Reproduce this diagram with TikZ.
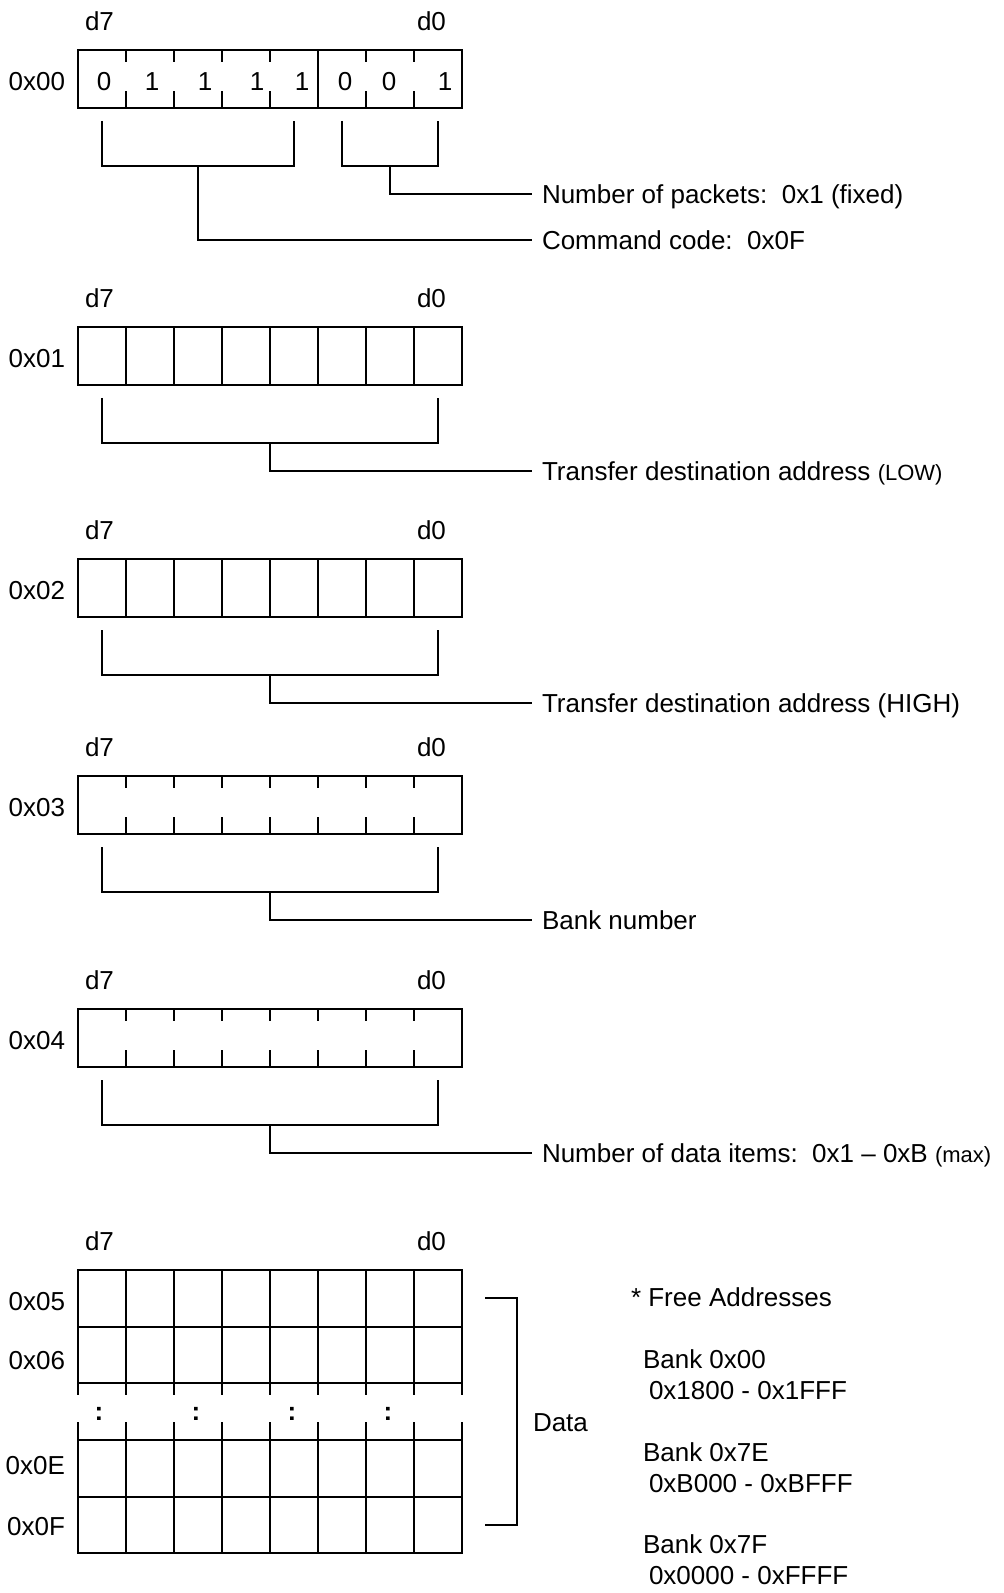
\documentclass[tikz,border=0pt]{standalone}
\usepackage{fontspec}
\setmainfont{Liberation Sans}
\begin{document}
\begin{tikzpicture}
% Packet layout in pixel units, origin top left, y pointing down
\def\pxsz{0.5pt}
\providecommand{\pktLineWidth}{1pt}
\providecommand{\pktFont}{\fontsize{13}{15.6}\selectfont}
\providecommand{\pktSmall}{\fontsize{11}{13}\selectfont}
\begin{scope}[x=\pxsz, y=-\pxsz, line width=\pktLineWidth,
  every node/.style={font=\pktFont, inner sep=0pt, text height=9.3pt, text depth=0pt},
  addr/.style={anchor=east},
  bitname/.style={anchor=west},
  field/.style={anchor=west, inner sep=4.5pt},
  note/.style={anchor=base west}]
  \useasboundingbox (0,0) rectangle (1003,1593);
  % Register 0x00: command byte
  \node[bitname] (hi00) at (84,21.5) {d7};
  \node[bitname] (lo00) at (416,21.5) {d0};
  \node[addr] (reg00) at (66,81.5) {0x00};
  \draw (78,50) rectangle (462,108);
  \draw (318,50) -- (318,108);
  \foreach \x in {126,174,222,270,366,414}
    \draw (\x,50) -- ++(0,12) (\x,108) -- ++(0,-17);
  \foreach \x/\b [count=\i] in {104/0,152/1,205/1,257/1,302/1,345/0,389/0,445/1}
    \node (bit\i) at (\x,81.5) {\b};
  \draw (102,121) |- (294,166) -- (294,121);
  \draw (342,121) |- (438,166) -- (438,121);
  \coordinate (cmdjoin) at (198,166);
  \coordinate (numjoin) at (390,166);
  \node[field] (numpkt) at (532,194) {Number of packets:\ \ 0x1 (fixed)};
  \node[field] (cmdcode) at (532,240) {Command code:\ \ 0x0F};
  \draw (numjoin) |- (numpkt.west);
  \draw (cmdjoin) |- (cmdcode.west);
  % Register 0x01: destination address low byte
  \node[bitname] (hi01) at (84,298.5) {d7};
  \node[bitname] (lo01) at (416,298.5) {d0};
  \node[addr] (reg01) at (66,358) {0x01};
  \draw (78,327) rectangle (462,385);
  \foreach \x in {126,174,...,414} \draw (\x,327) -- (\x,385);
  \draw (102,398) |- (438,443) -- (438,398);
  \coordinate (dstlojoin) at (270,443);
  \node[field] (dstlo) at (532,471) {Transfer destination address {\pktSmall(LOW)}};
  \draw (dstlojoin) |- (dstlo.west);
  % Register 0x02: destination address high byte
  \node[bitname] (hi02) at (84,530.5) {d7};
  \node[bitname] (lo02) at (416,530.5) {d0};
  \node[addr] (reg02) at (66,590) {0x02};
  \draw (78,559) rectangle (462,617);
  \foreach \x in {126,174,...,414} \draw (\x,559) -- (\x,617);
  \draw (102,630) |- (438,675) -- (438,630);
  \coordinate (dsthijoin) at (270,675);
  \node[field] (dsthi) at (532,703) {Transfer destination address (HIGH)};
  \draw (dsthijoin) |- (dsthi.west);
  % Register 0x03: bank
  \node[bitname] (hi03) at (84,747.5) {d7};
  \node[bitname] (lo03) at (416,747.5) {d0};
  \node[addr] (reg03) at (66,807) {0x03};
  \draw (78,776) rectangle (462,834);
  \foreach \x in {126,174,...,414}
    \draw (\x,776) -- ++(0,12) (\x,834) -- ++(0,-17);
  \draw (102,847) |- (438,892) -- (438,847);
  \coordinate (bankjoin) at (270,892);
  \node[field] (bank) at (532,920) {Bank number};
  \draw (bankjoin) |- (bank.west);
  % Register 0x04: item count
  \node[bitname] (hi04) at (84,980.5) {d7};
  \node[bitname] (lo04) at (416,980.5) {d0};
  \node[addr] (reg04) at (66,1040) {0x04};
  \draw (78,1009) rectangle (462,1067);
  \foreach \x in {126,174,...,414}
    \draw (\x,1009) -- ++(0,12) (\x,1067) -- ++(0,-17);
  \draw (102,1080) |- (438,1125) -- (438,1080);
  \coordinate (countjoin) at (270,1125);
  \node[field] (count) at (532,1153) {Number of data items:\ \ 0x1 \textendash\ 0xB {\pktSmall(max)}};
  \draw (countjoin) |- (count.west);
  % Data rows 0x05 to 0x0F
  \node[bitname] (hi05) at (84,1241.5) {d7};
  \node[bitname] (lo05) at (416,1241.5) {d0};
  \begin{scope}[line cap=rect]
    \draw (78,1270) -- (462,1270) (78,1327) -- (462,1327) (78,1383) -- (462,1383);
    \draw (78,1440) -- (462,1440) (78,1497) -- (462,1497) (78,1553) -- (462,1553);
    \foreach \x in {78,126,...,462} {
      \draw (\x,1270) -- (\x,1394);
      \draw (\x,1423) -- (\x,1553);
    }
  \end{scope}
  \foreach \x [count=\i] in {99,196,292,388}
    \node[font=\pktFont\bfseries] (dots\i) at (\x,1411) {:};
  \node[addr] (reg05) at (66,1301) {0x05};
  \node[addr] (reg06) at (66,1360) {0x06};
  \node[addr] (reg0E) at (66,1465) {0x0E};
  \node[addr] (reg0F) at (66,1526) {0x0F};
  \coordinate (datatop) at (485,1298);
  \coordinate (databot) at (485,1525);
  \draw (datatop) -- ++(32,0) |- (databot);
  \node[anchor=west] (data) at (532,1422.5) {Data};
  % Free address notes
  \node[note] (freehead) at (630,1306.7) {* Free Addresses};
  \node[note] (bank00) at (642,1368) {Bank 0x00};
  \node[note] (range00) at (648,1399) {0x1800 - 0x1FFF};
  \node[note] (bank7E) at (642,1461) {Bank 0x7E};
  \node[note] (range7E) at (648,1492) {0xB000 - 0xBFFF};
  \node[note] (bank7F) at (642,1553) {Bank 0x7F};
  \node[note] (range7F) at (648,1584) {0x0000 - 0xFFFF};
\end{scope}
\end{tikzpicture}
\end{document}
